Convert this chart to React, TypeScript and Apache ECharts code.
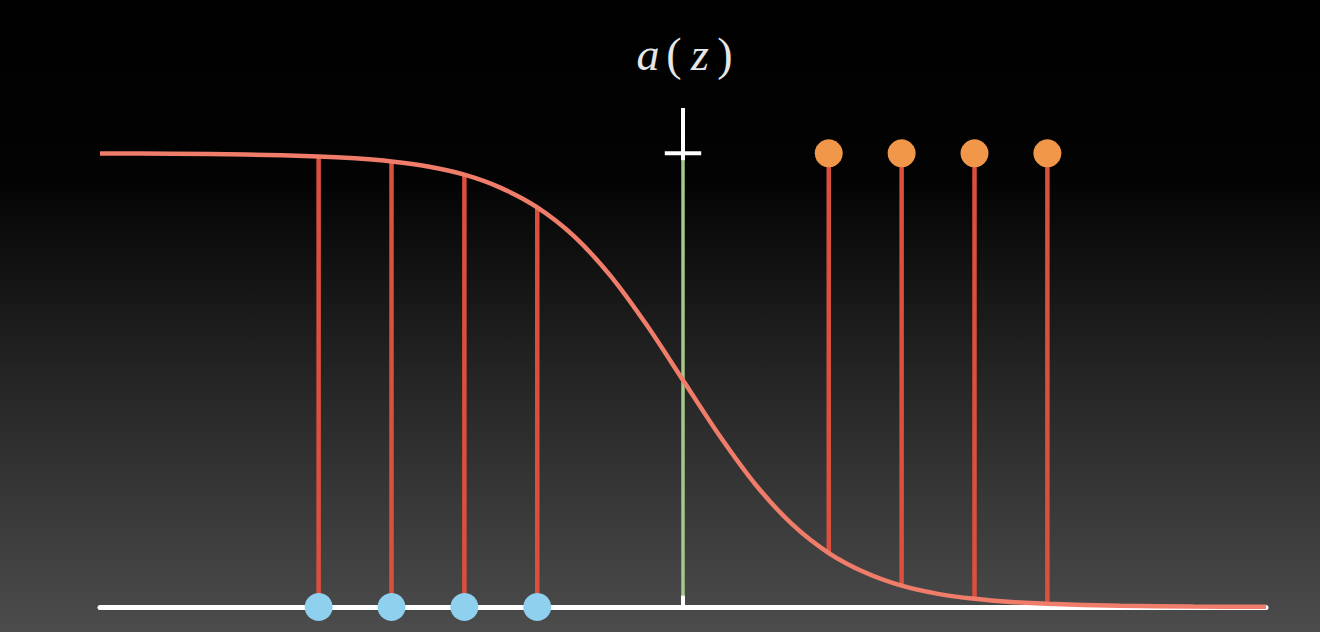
import React, { useEffect, useRef } from "react";
import * as echarts from "echarts";

// Curve a(z) (decreasing sigmoid)
const curveZ = [-8, -7, -6, -5, -4.5, -4, -3.5, -3, -2.5, -2, -1.5, -1, -0.5, 0, 0.5, 1, 1.5, 2, 2.5, 3, 3.5, 4, 4.5, 5, 6, 7, 8];
const curveA = [0.9997, 0.9991, 0.9975, 0.9933, 0.989, 0.982, 0.971, 0.953, 0.924, 0.881, 0.818, 0.731, 0.622, 0.5, 0.378, 0.269, 0.182, 0.119, 0.076, 0.047, 0.029, 0.018, 0.011, 0.007, 0.0025, 0.0009, 0.0003];

// Blue points on the baseline with stems up to the curve
const blueZ = [-5, -4, -3, -2];
const blueTop = [0.993, 0.982, 0.953, 0.881];

// Orange points at the top with stems down to the curve
const orangeZ = [2, 3, 4, 5];
const orangeBottom = [0.119, 0.047, 0.018, 0.007];

const labelGlyphs = ["a", "(", "z", ")"];
const labelItalic = [true, false, true, false];

export default function App() {
  const ref = useRef<HTMLDivElement>(null);

  useEffect(() => {
    if (!ref.current) return;
    const chart = echarts.init(ref.current, null, { renderer: "svg" });

    const stemColor = "#dc4f3c";
    const series: any[] = [];

    blueZ.forEach((z, i) => {
      series.push({
        type: "line",
        data: [[z, 0], [z, blueTop[i]]],
        symbol: "none",
        lineStyle: { color: stemColor, width: 4.5 },
        z: 2,
        silent: true,
      });
    });
    orangeZ.forEach((z, i) => {
      series.push({
        type: "line",
        data: [[z, 1], [z, orangeBottom[i]]],
        symbol: "none",
        lineStyle: { color: stemColor, width: 4.5 },
        z: 2,
        silent: true,
      });
    });

    // vertical a(z) axis
    series.push({
      type: "line",
      data: [[0, 0], [0, 1]],
      symbol: "none",
      lineStyle: { color: "#a4c98a", width: 3.5 },
      z: 3,
      silent: true,
    });
    series.push({
      type: "line",
      data: [[0, 0.985], [0, 1.1]],
      symbol: "none",
      lineStyle: { color: "#ffffff", width: 4 },
      z: 4,
      silent: true,
    });
    series.push({
      type: "line",
      data: [[-0.25, 1], [0.25, 1]],
      symbol: "none",
      lineStyle: { color: "#ffffff", width: 4 },
      z: 4,
      silent: true,
    });
    series.push({
      type: "line",
      data: [[0, 0], [0, 0.025]],
      symbol: "none",
      lineStyle: { color: "#ffffff", width: 4 },
      z: 4,
      silent: true,
    });

    // curve
    series.push({
      type: "line",
      data: curveZ.map((z, i) => [z, curveA[i]]),
      symbol: "none",
      smooth: 0.3,
      lineStyle: { color: "#f07c6a", width: 4.5 },
      z: 5,
      silent: true,
    });

    // points
    series.push({
      type: "scatter",
      data: blueZ.map((z) => [z, 0]),
      symbolSize: 28,
      itemStyle: { color: "#8fd0ee", opacity: 1 },
      z: 6,
      silent: true,
    });
    series.push({
      type: "scatter",
      data: orangeZ.map((z) => [z, 1]),
      symbolSize: 28,
      itemStyle: { color: "#f0974a", opacity: 1 },
      z: 6,
      silent: true,
    });

    const glyphX = [648, 674, 700, 725];
    chart.setOption({
      animation: false,
      backgroundColor: {
        type: "linear",
        x: 0,
        y: 0,
        x2: 0,
        y2: 1,
        colorStops: [
          { offset: 0, color: "#000000" },
          { offset: 0.28, color: "#030303" },
          { offset: 0.6, color: "#252525" },
          { offset: 1, color: "#4c4c4c" },
        ],
      },
      grid: { left: 100, right: 54, top: 108, bottom: 25, containLabel: false },
      xAxis: {
        type: "value",
        min: -8,
        max: 8,
        axisLine: { show: true, onZero: true, lineStyle: { color: "#ffffff", width: 5 } },
        axisTick: { show: false },
        axisLabel: { show: false },
        splitLine: { show: false },
      },
      yAxis: {
        type: "value",
        min: 0,
        max: 1.1,
        show: false,
        splitLine: { show: false },
      },
      graphic: labelGlyphs.map((g, i) => ({
        type: "text",
        x: glyphX[i],
        y: 54,
        style: {
          text: g,
          font: (labelItalic[i] ? "italic " : "") + "46px 'Liberation Serif', 'DejaVu Serif', serif",
          fill: "#e6e6e6",
          align: "center",
          verticalAlign: "middle",
        },
      })),
      series,
    });

    return () => chart.dispose();
  }, []);

  return (
    <div
      ref={ref}
      style={{ position: "fixed", left: 0, top: 0, width: 1320, height: 632 }}
    />
  );
}
